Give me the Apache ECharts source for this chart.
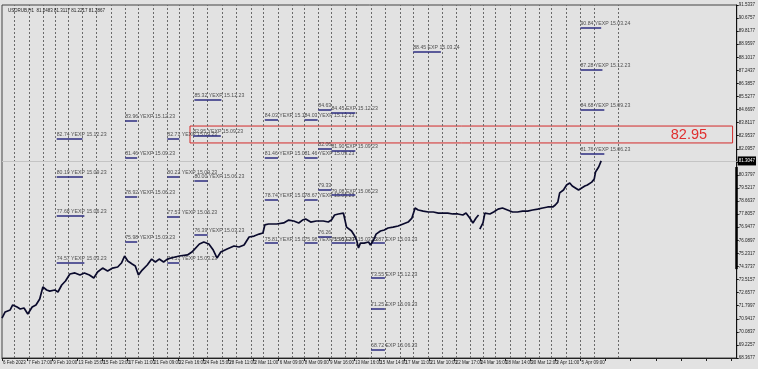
<!DOCTYPE html>
<html><head><meta charset="utf-8">
<script src="https://cdn.jsdelivr.net/npm/echarts@6/dist/echarts.min.js"></script>
<style>html,body{margin:0;padding:0;background:#e2e2e2}#c{width:758px;height:369px}</style>
</head><body><div id="c"></div>
<script>
// ---- data (x in hourly bar slots, y in price) ----
const xLabels = ["6 Feb 2023","7 Feb 17:00","9 Feb 10:00","13 Feb 15:00","15 Feb 13:00","17 Feb 11:00","21 Feb 09:00","22 Feb 16:00","24 Feb 15:00","28 Feb 11:00","2 Mar 11:00","6 Mar 09:00","8 Mar 09:00","9 Mar 16:00","13 Mar 16:00","15 Mar 14:00","17 Mar 11:00","21 Mar 10:00","22 Mar 17:00","24 Mar 16:00","28 Mar 14:00","30 Mar 12:00","3 Apr 11:00","5 Apr 09:00"];
const yLabels = ["68.3677","69.2257","70.0837","70.9417","71.7997","72.6577","73.5157","74.3737","75.2317","76.0897","76.9477","77.8057","78.6637","79.5217","80.3797","81.2377","82.0957","82.9537","83.8117","84.6697","85.5277","86.3857","87.2437","88.1017","88.9597","89.8177","90.6757","91.5337"];
const priceX = [0,5,13,17,24,29,35,41,43,48,54,60,65,71,76,84,89,95,101,108,116,124,131,139,146,152,160,168,176,184,190,195,200,207,212,217,223,231,238,244,250,257,263,269,282,295,302,314,321,329,336,342,348,358,369,377,385,393,401,409,415,418,424,437,448,456,464,472,478,483,491,500,511,519,524,529,535,543,548,551,556,561,564,567,570,576,583,586,591,595,602,608,614,622,630,638,646,652,657,662,670,678,686,694,702,709,717,725,733,738,744,749,754,758];
const priceY = [70.99,71.39,71.52,71.85,71.71,71.58,71.65,71.26,71.19,71.71,71.85,72.24,73.03,72.83,72.76,72.83,72.70,73.16,73.42,73.88,73.95,73.81,73.95,73.81,73.62,74.01,74.27,74.08,74.27,74.34,74.60,75.06,74.73,74.54,74.41,73.81,74.14,74.47,74.86,74.67,74.86,74.67,74.86,74.93,75.06,75.13,75.32,75.85,75.98,75.85,75.45,74.93,75.32,75.52,75.72,75.65,75.78,76.31,76.37,76.50,76.57,77.10,77.16,77.16,77.23,77.42,77.36,77.23,77.42,77.49,77.29,77.36,77.36,77.29,77.42,77.75,77.82,77.88,76.96,76.96,76.70,76.37,76.11,75.59,75.91,75.91,75.98,75.78,76.11,76.50,76.70,76.77,76.90,76.96,77.03,77.16,77.29,77.55,78.21,78.08,78.01,77.95,77.95,77.88,77.88,77.88,77.82,77.82,77.75,77.88,77.55,77.23,77.55,77.75];
const price2X = [760,765,768,776,782,789,796,804,812,820,828,836,844,852,860,868,876,880,884,887,893,898,903,907,912,917,922,927,931,938,942,944,949,953];
const price2Y = [76.83,77.23,77.88,77.82,77.95,78.14,78.21,78.08,77.95,77.95,78.01,78.01,78.08,78.14,78.21,78.28,78.28,78.41,78.60,79.20,79.39,79.72,79.85,79.65,79.52,79.39,79.52,79.65,79.72,79.91,80.12,80.57,80.90,81.30];
const separators = [19,43,65,84,106,128,150,174,196,217,241,263,282,304,326,350,372,396,416,440,461,480,503,524,546,564,587,610,633,654,678,700,722,744,765,784,809,833,855,874,898,920,942,980];
const annText = ["85.32 YEXP 15.12.23","83.96 YEXP 15.12.23","88.45 EXP 15.03.24","84.63","84.45 EXP 15.12.23","84.03 YEXP 15.1","84.03 YEXP 15.12.23","90.84 YEXP 15.03.24","87.28 YEXP 15.12.23","84.68 YEXP 15.09.23","82.74 YEXP 15.12.23","82.71 YEXP 15.09.23","82.95 YEXP 15.09.23","81.46 YEXP 15.09.23","80.19 YEXP 15.09.23","80.22 YEXP 15.09.23","80.00 YEXP 15.06.23","78.92 YEXP 15.06.23","77.68 YEXP 15.06.23","77.57 YEXP 15.06.23","76.39 YEXP 15.03.23","75.98 YEXP 15.03.23","74.57 YEXP 15.03.23","74.51 YEXP 15.03.23","82.06","81.90 EXP 15.09.23","81.46 YEXP 15.0","81.46 YEXP 15.09.23","79.33","79.08 EXP 15.06.23","78.74 YEXP 15.0","78.67 YEXP 15.06.23","76.26","75.81 YEXP 15.0","75.98 YEXP 15.03.23","75.95 EXP 15.03.23","75.87 EXP 15.03.23","73.55 EXP 15.12.23","71.25 EXP 15.09.23","68.72 EXP 15.06.23","81.76 YEXP 15.06.23"];
const annX = [306,196,654,503,524,418,481,920,920,920,87,263,304,196,87,263,306,196,87,263,306,196,87,263,503,524,418,481,503,524,418,481,503,418,481,524,587,587,587,587,920];
const annY = [85.30,83.92,88.45,84.64,84.45,83.99,83.99,90.02,87.27,84.64,82.74,82.74,82.94,81.49,80.25,80.25,79.98,78.93,77.69,77.62,76.44,75.98,74.60,74.60,82.08,81.95,81.49,81.49,79.39,79.06,78.74,78.74,76.31,75.91,75.91,75.91,75.91,73.61,71.58,68.89,81.76];
const annLen = [43,19,44,21,38,21,21,33,35,38,41,19,44,19,41,19,21,19,44,19,21,19,44,19,21,38,21,21,21,38,21,21,21,21,21,38,22,22,22,22,38];
const levelBox = {x1:299, x2:1162, y1:82.48, y2:83.59, text:"82.95"};
const lastPrice = 81.30, lastPriceText = "81.3047";
const headerText = "USDRUB,H1  81.2483 81.3117 81.2217 81.2867";
const X_MAX = 1168.6, Y_MIN = 68.3677, Y_MAX = 91.5337;

// ---- chart ----
const chart = echarts.init(document.getElementById('c'), null, {renderer:'canvas'});
const zip = (a,b) => a.map((v,i)=>[v,b[i]]);
const tinyFont = 'Liberation Sans Narrow, Liberation Sans, Arial, sans-serif';
const lineStyle = {color:'#0a0a2c', width:1.7};
chart.setOption({
  animation:false,
  backgroundColor:'#e2e2e2',
  title:{text:headerText, left:3, top:3, textStyle:{fontSize:4.5, fontWeight:'normal', color:'#222', fontFamily:tinyFont}},
  grid:{left:2, right:18, top:5, bottom:11, show:true, borderColor:'#444', borderWidth:1, backgroundColor:'transparent'},
  xAxis:{type:'value', min:0, max:X_MAX, interval:40,
    axisLine:{show:true, lineStyle:{color:'#222'}},
    axisTick:{show:true, length:3, lineStyle:{color:'#222'}},
    splitLine:{show:false},
    axisLabel:{fontSize:4.5, color:'#222', fontFamily:tinyFont, align:'left', margin:2, padding:[0,0,0,1],
      showMaxLabel:false,
      formatter:v => (v % 40 === 0 && xLabels[v/40]) ? xLabels[v/40] : ''}},
  yAxis:[
    {type:'value', min:Y_MIN, max:Y_MAX, show:false, splitLine:{show:false}},
    {type:'value', min:0, max:27, interval:1, position:'right',
      axisLine:{show:true, lineStyle:{color:'#111'}},
      axisTick:{show:true, length:2, lineStyle:{color:'#111'}},
      splitLine:{show:false},
      axisLabel:{fontSize:4.5, color:'#222', fontFamily:tinyFont, margin:2, formatter:v => yLabels[v] || ''}}
  ],
  series:[
    {type:'line', yAxisIndex:0, data:[], silent:true,
      markLine:{silent:true, symbol:['none','none'], label:{show:false},
        lineStyle:{color:'#6a6a6a', type:[2,2], width:1},
        data:separators.map(v=>({xAxis:v}))}},
    {type:'line', yAxisIndex:0, data:[], silent:true,
      markLine:{silent:true, symbol:['none','none'],
        data:[
          {yAxis:lastPrice, lineStyle:{color:'#c4c4c4', type:'solid', width:1},
            label:{show:true, position:'end', distance:1, formatter:lastPriceText, backgroundColor:'#000', color:'#fff', fontSize:4.5, fontFamily:tinyFont, padding:[2,1]}},
          [{coord:[X_MAX, 80.9], lineStyle:{color:'#000', width:2.5, type:'solid'}, label:{show:false}},{coord:[X_MAX, 74.2]}]
        ]},
      markArea:{silent:true,
        itemStyle:{color:'rgba(0,0,0,0)', borderColor:'#d42a2a', borderWidth:1},
        label:{show:true, position:'insideRight', distance:26, color:'#e03030', fontSize:14.5, fontFamily:'Liberation Sans, Arial, sans-serif'},
        data:[[{name:levelBox.text, coord:[levelBox.x1, levelBox.y2]},{coord:[levelBox.x2, levelBox.y1]}]]}},
    {type:'scatter', yAxisIndex:0, symbolSize:0, silent:true, z:3,
      data:annX.map((x,i)=>[x, annY[i], annText[i]]),
      label:{show:true, position:'right', distance:0, offset:[0,-4], formatter:p=>p.data[2], fontSize:5.2, color:'#2a2a2a', fontFamily:tinyFont},
      markLine:{silent:true, symbol:['none','none'], label:{show:false},
        lineStyle:{color:'#2c2c80', width:1.5, type:'solid'},
        data:annX.map((x,i)=>[{coord:[x, annY[i]]},{coord:[x+annLen[i], annY[i]]}])}},
    {type:'line', yAxisIndex:0, data:zip(priceX, priceY), showSymbol:false, lineStyle:lineStyle, z:5, silent:true},
    {type:'line', yAxisIndex:0, data:zip(price2X, price2Y), showSymbol:false, lineStyle:lineStyle, z:5, silent:true}
  ]
});
</script></body></html>
